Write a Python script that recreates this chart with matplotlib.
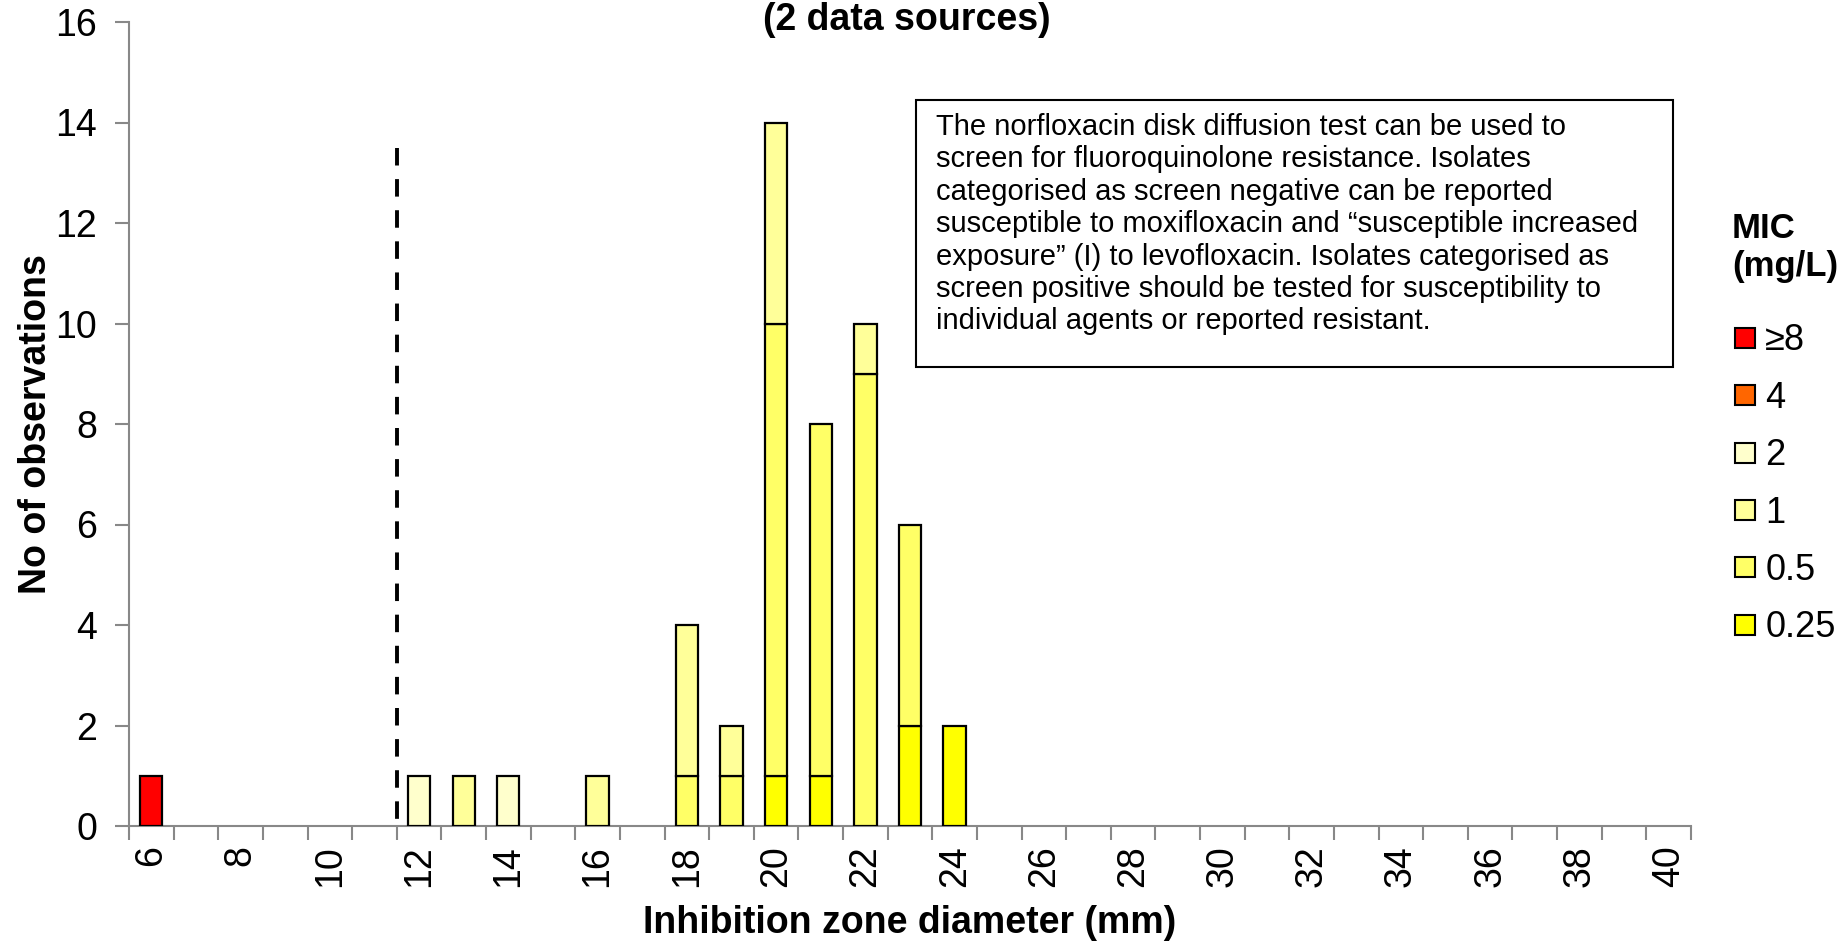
import numpy as np
import matplotlib
matplotlib.use("Agg")
from matplotlib import pyplot as plt
from matplotlib.lines import Line2D
from matplotlib.patches import Rectangle

plt.rcParams["font.family"] = ["Liberation Sans", "DejaVu Sans"]

# inhibition zone diameters (mm), one slot each
diameters = list(range(6, 41))

# counts per MIC class (mg/L), index follows diameters 6..40
mic_025 = [0, 0, 0, 0, 0, 0, 0, 0, 0, 0, 0, 0, 0, 0, 1, 1, 0, 2, 2, 0, 0, 0, 0, 0, 0, 0, 0, 0, 0, 0, 0, 0, 0, 0, 0]
mic_05 = [0, 0, 0, 0, 0, 0, 0, 0, 0, 0, 0, 0, 1, 1, 9, 7, 9, 4, 0, 0, 0, 0, 0, 0, 0, 0, 0, 0, 0, 0, 0, 0, 0, 0, 0]
mic_1 = [0, 0, 0, 0, 0, 0, 0, 1, 0, 0, 1, 0, 3, 1, 4, 0, 1, 0, 0, 0, 0, 0, 0, 0, 0, 0, 0, 0, 0, 0, 0, 0, 0, 0, 0]
mic_2 = [0, 0, 0, 0, 0, 0, 1, 0, 1, 0, 0, 0, 0, 0, 0, 0, 0, 0, 0, 0, 0, 0, 0, 0, 0, 0, 0, 0, 0, 0, 0, 0, 0, 0, 0]
mic_4 = [0] * 35
mic_ge8 = [1, 0, 0, 0, 0, 0, 0, 0, 0, 0, 0, 0, 0, 0, 0, 0, 0, 0, 0, 0, 0, 0, 0, 0, 0, 0, 0, 0, 0, 0, 0, 0, 0, 0, 0]

series = [mic_025, mic_05, mic_1, mic_2, mic_4, mic_ge8]
series_labels = ["0.25", "0.5", "1", "2", "4", "\u22658"]
series_colors = ["#FFFF00", "#FFFF66", "#FFFF99", "#FFFFCC", "#FF6600", "#FF0000"]

breakpoint_top = 13.5

note = ("The norfloxacin disk diffusion test can be used to\n"
        "screen for fluoroquinolone resistance. Isolates\n"
        "categorised as screen negative can be reported\n"
        "susceptible to moxifloxacin and \u201csusceptible increased\n"
        "exposure\u201d (I) to levofloxacin. Isolates categorised as\n"
        "screen positive should be tested for susceptibility to\n"
        "individual agents or reported resistant.")

W, H = 1847, 941
fig = plt.figure(figsize=(W / 100, H / 100), dpi=100)
ax = fig.add_axes([129 / W, 1 - 826 / H, (1691 - 129) / W, (826 - 22) / H])

x = np.arange(len(diameters))
bottom = np.zeros(len(diameters))
for vals, col in zip(series, series_colors):
	vals = np.array(vals, dtype=float)
	idx = vals > 0
	if idx.any():
		ax.bar(x[idx], vals[idx], width=0.5, bottom=bottom[idx], color=col,
			   edgecolor="black", linewidth=1.6, zorder=3)
	bottom += vals

# screening breakpoint (between 11 and 12 mm), dashes start at the top
bx = diameters.index(12) - 0.5
ax.plot([bx, bx], [breakpoint_top, 0], color="black", lw=2.8,
		linestyle=(0, (4.5, 3.5)), zorder=4, clip_on=False)

ax.set_xlim(-0.5, len(diameters) - 0.5)
ax.set_ylim(0, 16)
ax.set_yticks(range(0, 17, 2))

even = [i for i, d in enumerate(diameters) if d % 2 == 0]
ax.set_xticks(even)
ax.set_xticklabels([str(diameters[i]) for i in even], rotation=90)
ax.set_xticks(np.arange(-0.5, len(diameters)), minor=True)
ax.tick_params(axis="x", which="major", length=0, pad=14, labelsize=27)
ax.tick_params(axis="x", which="minor", length=10, width=1.5, color="#888888")
ax.tick_params(axis="y", length=10, width=1.5, color="#888888", labelsize=27, pad=13)

for s in ["top", "right"]:
	ax.spines[s].set_visible(False)
for s in ["left", "bottom"]:
	ax.spines[s].set_color("#888888")
	ax.spines[s].set_linewidth(1.5)

ax.set_xlabel("Inhibition zone diameter (mm)", fontsize=27, fontweight="bold", labelpad=13)
ax.set_ylabel("No of observations", fontsize=27, fontweight="bold", labelpad=1)

fig.text(907 / W, 1 - 20 / H, "(2 data sources)", ha="center", va="center",
		 fontsize=27, fontweight="bold")

# note box
fig.patches.append(Rectangle((916 / W, 1 - 367 / H), (1673 - 916) / W, (367 - 100) / H,
							 transform=fig.transFigure, facecolor="white",
							 edgecolor="black", linewidth=1.5, zorder=5))
fig.text(936 / W, 1 - 113 / H, note, ha="left", va="top", fontsize=21,
		 linespacing=1.2, zorder=6)

# legend, top class first
handles = [Line2D([], [], linestyle="none", marker="s", markersize=14,
				  markerfacecolor=c, markeredgecolor="black", markeredgewidth=1.5)
		   for c in series_colors[::-1]]
leg = ax.legend(handles, series_labels[::-1], loc="upper left",
				bbox_to_anchor=(1732 / W, 1 - 212 / H), bbox_transform=fig.transFigure,
				frameon=False, fontsize=26, handlelength=0.6, handletextpad=0.25,
				labelspacing=0.62, borderaxespad=0, borderpad=0,
				title="MIC\n(mg/L)", title_fontproperties={"weight": "bold", "size": 25})
leg._legend_box.sep = 29

fig.savefig("out.png", dpi=100)
